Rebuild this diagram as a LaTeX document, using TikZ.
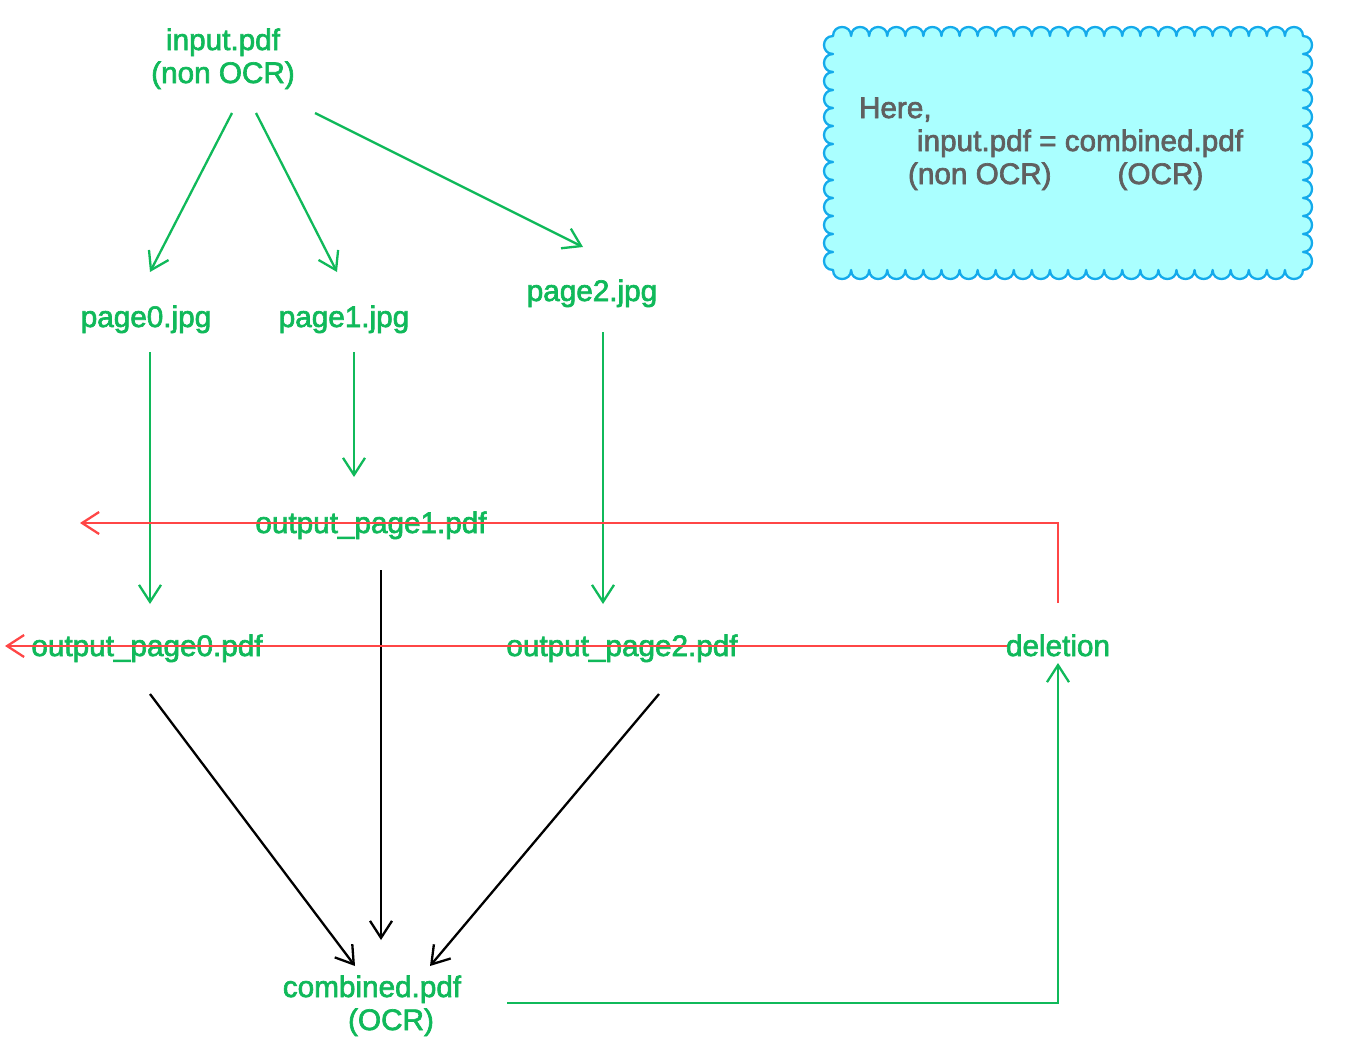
\documentclass[tikz,border=0pt]{standalone}
\usepackage{fontspec}
\setmainfont{Liberation Sans}
\newfontfamily\lblfont{Liberation Sans}[RawFeature={embolden=2.2}]
\usetikzlibrary{arrows.meta}
\definecolor{gr}{RGB}{16,185,90}
\definecolor{rd}{RGB}{255,70,70}
\definecolor{cyanfill}{RGB}{170,255,255}
\definecolor{cloudline}{RGB}{20,170,235}
\definecolor{gtext}{RGB}{96,96,96}
\begin{document}
\begin{tikzpicture}[x=1pt,y=-1pt,
  >={Straight Barb[length=17pt,width=22pt]},
  lbl/.style={inner sep=0pt,outer sep=0pt,text=gr,font=\lblfont\fontsize{29.7}{33}\selectfont,align=center,anchor=base},
  boxtext/.style={inner sep=0pt,outer sep=0pt,text=gtext,font=\lblfont\fontsize{29.7}{33}\selectfont,align=left,anchor=base west},
  garrow/.style={draw=gr,line width=2.3pt,->},
  karrow/.style={draw=black,line width=2.3pt,->},
  rarrow/.style={draw=rd,line width=2.3pt,->},
  cloudbox/.style={draw=cloudline,fill=cyanfill,line width=2.3pt,line join=round}]
\useasboundingbox (0,0) rectangle (1367,1044);

% cloud note
\path[cloudbox] (833,36)
  \foreach \i in {1,...,26}{ .. controls +(0,-12) and +(0,-12) .. ++(18.0769,0) }
  \foreach \i in {1,...,13}{ .. controls +(12,0) and +(12,0) .. ++(0,18) }
  \foreach \i in {1,...,26}{ .. controls +(0,12) and +(0,12) .. ++(-18.0769,0) }
  \foreach \i in {1,...,13}{ .. controls +(-12,0) and +(-12,0) .. ++(0,-18) } -- cycle;
\node[boxtext] (note) at (859,184) {Here,\\\hspace*{58pt}input.pdf = combined.pdf\\\hspace*{49pt}(non OCR)\hspace*{66pt}(OCR)};

% nodes
\node[lbl] (in) at (223,83) {input.pdf\\(non OCR)};
\node[lbl] (p0) at (146,327) {page0.jpg};
\node[lbl] (p1) at (344,327) {page1.jpg};
\node[lbl] (p2) at (592,301) {page2.jpg};
\node[lbl] (o1) at (371,533) {output\_page1.pdf};
\node[lbl] (o0) at (147,656) {output\_page0.pdf};
\node[lbl] (o2) at (622,656) {output\_page2.pdf};
\node[lbl] (del) at (1058,656) {deletion};
\node[lbl] (comb) at (372,1030) {combined.pdf\\\hspace*{38pt}(OCR)};
\coordinate (r1end) at (80,523);
\coordinate (r2end) at (5,646);

% green arrows
\draw[garrow] ([shift={(9,30)}]in.base) -- ([shift={(4,-55)}]p0.base);
\draw[garrow] ([shift={(33,30)}]in.base) -- ([shift={(-7,-55)}]p1.base);
\draw[garrow] ([shift={(92,30)}]in.base) -- ([shift={(-9,-54)}]p2.base);
\draw[garrow] ([shift={(4,25)}]p0.base) -- ([shift={(3,-52)}]o0.base);
\draw[garrow] ([shift={(10,25)}]p1.base) -- ([shift={(-17,-56)}]o1.base);
\draw[garrow] ([shift={(11,31)}]p2.base) -- ([shift={(-19,-52)}]o2.base);

% black arrows
\draw[karrow] ([shift={(10,37)}]o1.base) -- ([shift={(9,-90)}]comb.base);
\draw[karrow] ([shift={(3,38)}]o0.base) -- ([shift={(-17,-64)}]comb.base);
\draw[karrow] ([shift={(37,38)}]o2.base) -- ([shift={(58,-64)}]comb.base);

% green feedback
\draw[garrow] ([shift={(135,-27)}]comb.base) -| ([shift={(0,7)}]del.base);

% red arrows
\draw[rarrow] ([shift={(0,-53)}]del.base) |- (r1end);
\draw[rarrow] ([shift={(-51,-10)}]del.base) -- (r2end);
\end{tikzpicture}
\end{document}
